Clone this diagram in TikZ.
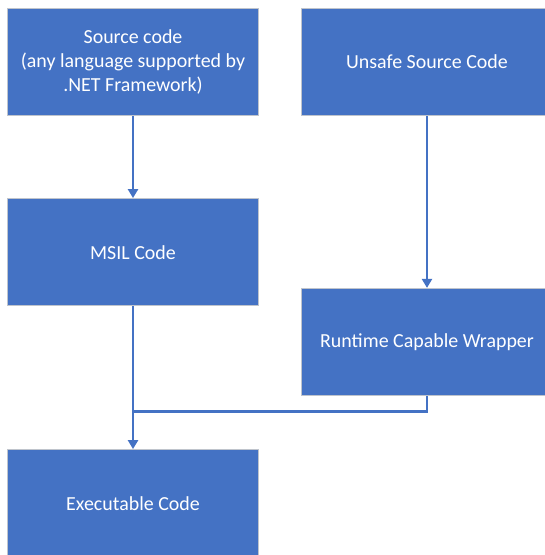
\documentclass[tikz,border=0pt]{standalone}
\usepackage{fontspec}
\setmainfont{Carlito}
\usetikzlibrary{arrows.meta}
\definecolor{boxblue}{HTML}{4472C4}
\definecolor{boxedge}{HTML}{BFC4CC}
\tikzset{
  flowbox/.style={draw=boxedge, line width=0.9bp, fill=boxblue, text=white,
    minimum width=251bp, minimum height=107.3bp, inner sep=0pt, align=center,
    font=\fontsize{20}{24}\selectfont},
  link/.style={draw=boxblue, line width=2.4bp},
  arrowlink/.style={link, -{Triangle[width=10bp,length=9bp]}}
}
\begin{document}
\begin{tikzpicture}[x=1bp,y=-1bp]
\useasboundingbox (0,0) rectangle (545,555);
\begin{scope}
\clip (0,0) rectangle (545,555);
\node[flowbox] (src) at (133,62) {Source code\\(any language supported by\\.NET Framework)};
\node[flowbox] (unsafe) at (427,62) {Unsafe Source Code};
\node[flowbox] (msil) at (133,252.2) {MSIL Code};
\node[flowbox] (rcw) at (427,342) {Runtime Capable Wrapper};
\node[flowbox] (exe) at (133,503.2) {Executable Code};
\coordinate (j) at (133,411.6);
\draw[arrowlink] (src) -- (msil);
\draw[arrowlink] (unsafe) -- (rcw);
\draw[arrowlink] (msil) -- (exe);
\draw[link] (rcw.south) |- (j);
\end{scope}
\end{tikzpicture}
\end{document}
